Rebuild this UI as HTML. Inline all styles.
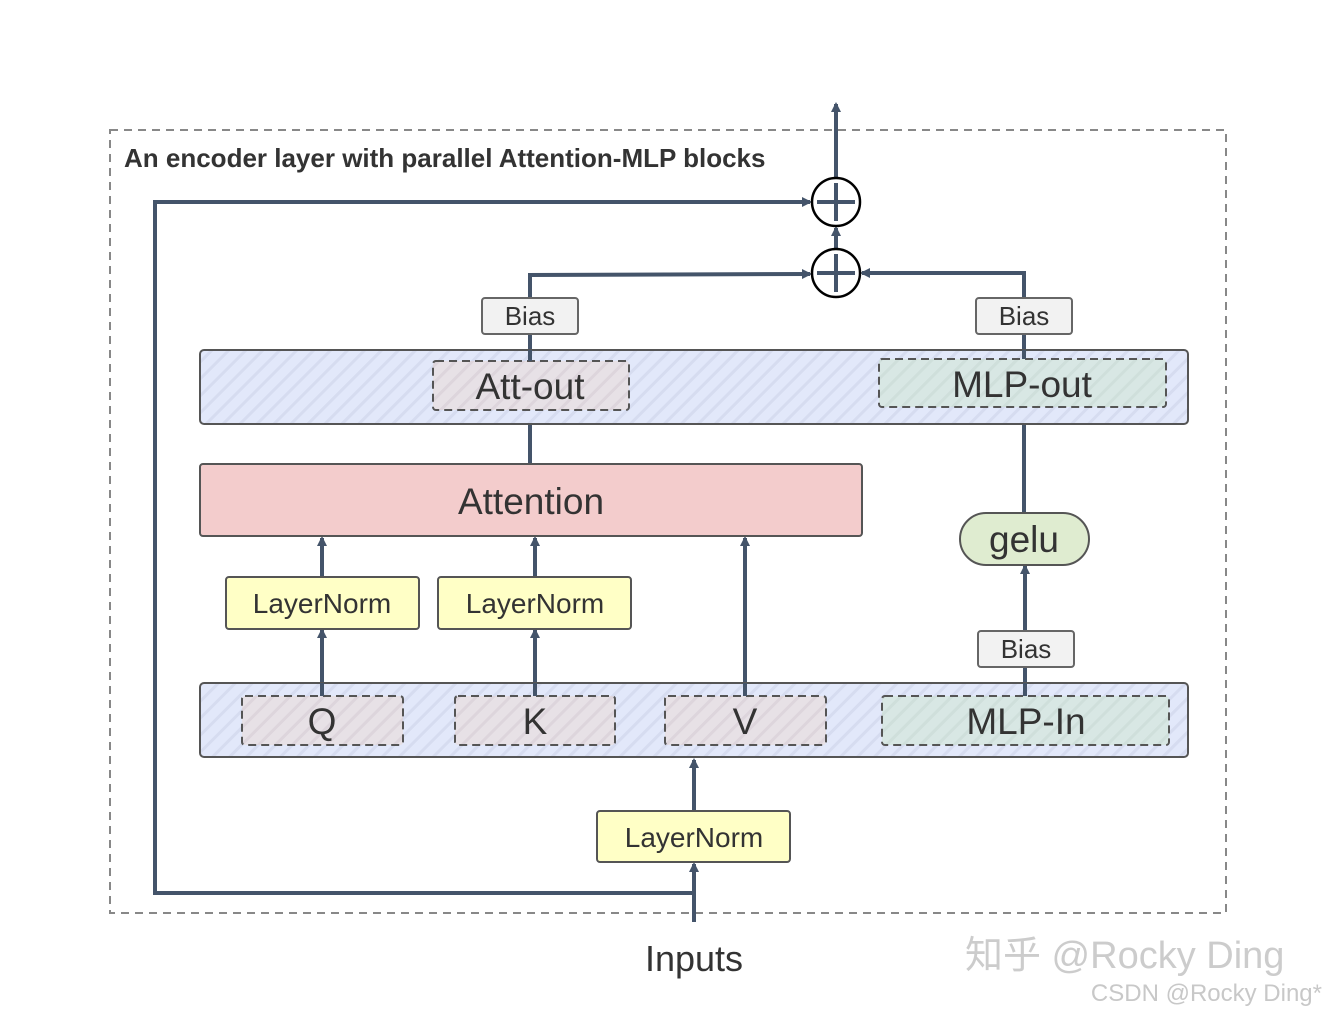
<!DOCTYPE html>
<html><head><meta charset="utf-8"><style>
body{margin:0;background:#fff}
svg{display:block}
text{font-family:"Liberation Sans","Noto Sans CJK SC",sans-serif;fill:#333}
</style></head><body>
<svg width="1328" height="1014" viewBox="0 0 1328 1014" xmlns="http://www.w3.org/2000/svg">
<defs>
<pattern id="h" patternUnits="userSpaceOnUse" width="12" height="12" patternTransform="rotate(45)">
<rect width="12" height="12" fill="#e2e8fa"/><rect width="3" height="12" fill="#d6dcf0"/>
</pattern>
<pattern id="hp" patternUnits="userSpaceOnUse" width="12" height="12" patternTransform="rotate(45)">
<rect width="12" height="12" fill="#e7e1e6"/><rect width="3" height="12" fill="#ddd5dc"/>
</pattern>
<pattern id="hg" patternUnits="userSpaceOnUse" width="12" height="12" patternTransform="rotate(45)">
<rect width="12" height="12" fill="#d8e7e4"/><rect width="3" height="12" fill="#cfdfdb"/>
</pattern>
<marker id="a" markerWidth="10" markerHeight="10" refX="8" refY="5" orient="auto" markerUnits="userSpaceOnUse">
<path d="M0,0 L10,5 L0,10 Z" fill="#44546a"/></marker>
</defs>
<rect x="110" y="130" width="1116" height="783" fill="none" stroke="#888" stroke-width="2" stroke-dasharray="8,6"/>
<text x="124" y="167" font-size="26" font-weight="bold" style="fill:#333">An encoder layer with parallel Attention-MLP blocks</text>

<g stroke="#44546a" stroke-width="4" fill="none">
<line x1="836" y1="178" x2="836" y2="104" marker-end="url(#a)"/>
<polyline points="694,922 694,893 155,893 155,202 810,202" marker-end="url(#a)"/>
<line x1="836" y1="249" x2="836" y2="228" marker-end="url(#a)"/>
<polyline points="530,350 530,275 810,274" marker-end="url(#a)"/>
<polyline points="1024,350 1024,273 862,273" marker-end="url(#a)"/>
<line x1="530" y1="464" x2="530" y2="412" marker-end="url(#a)"/>
<line x1="1024" y1="513" x2="1024" y2="409" marker-end="url(#a)"/>
<line x1="1025" y1="631" x2="1025" y2="566" marker-end="url(#a)"/>
<line x1="1025" y1="696" x2="1025" y2="667"/>
<line x1="322" y1="577" x2="322" y2="538" marker-end="url(#a)"/>
<line x1="535" y1="577" x2="535" y2="538" marker-end="url(#a)"/>
<line x1="745" y1="696" x2="745" y2="538" marker-end="url(#a)"/>
<line x1="322" y1="696" x2="322" y2="630" marker-end="url(#a)"/>
<line x1="535" y1="696" x2="535" y2="630" marker-end="url(#a)"/>
<line x1="694" y1="811" x2="694" y2="760" marker-end="url(#a)"/>
<line x1="694" y1="893" x2="694" y2="864" marker-end="url(#a)"/>
</g>

<g stroke="#000" stroke-width="2.5" fill="#fff">
<circle cx="836" cy="202" r="24"/><circle cx="836" cy="273" r="24"/>
</g>
<g stroke="#44546a" stroke-width="4">
<line x1="817" y1="202" x2="855" y2="202"/><line x1="836" y1="183" x2="836" y2="221"/>
<line x1="817" y1="273" x2="855" y2="273"/><line x1="836" y1="254" x2="836" y2="292"/>
</g>

<g stroke="#666" stroke-width="2" fill="#f2f2f2">
<rect x="482" y="298" width="96" height="36" rx="3"/>
<rect x="976" y="298" width="96" height="36" rx="3"/>
<rect x="978" y="631" width="96" height="36" rx="3"/>
</g>
<g font-size="26" text-anchor="middle">
<text x="530" y="325">Bias</text><text x="1024" y="325">Bias</text><text x="1026" y="658">Bias</text>
</g>

<rect x="200" y="350" width="988" height="74" rx="4" fill="url(#h)" stroke="#555" stroke-width="2"/>
<rect x="433" y="361" width="196" height="49" rx="3" fill="url(#hp)" stroke="#555" stroke-width="2" stroke-dasharray="8,5"/>
<rect x="879" y="359" width="287" height="48" rx="3" fill="url(#hg)" stroke="#555" stroke-width="2" stroke-dasharray="8,5"/>
<line x1="530" y1="350" x2="530" y2="361" stroke="#44546a" stroke-width="4"/>
<line x1="1024" y1="350" x2="1024" y2="359" stroke="#44546a" stroke-width="4"/>
<text x="530" y="399" font-size="37" text-anchor="middle">Att-out</text>
<text x="1022" y="397" font-size="37" text-anchor="middle">MLP-out</text>

<rect x="200" y="464" width="662" height="72" rx="3" fill="#f3cccc" stroke="#555" stroke-width="2"/>
<text x="531" y="514" font-size="37" text-anchor="middle">Attention</text>

<rect x="960" y="513" width="129" height="52" rx="26" fill="#dfecd0" stroke="#555" stroke-width="2"/>
<text x="1024" y="552" font-size="37" text-anchor="middle">gelu</text>

<g fill="#ffffc6" stroke="#555" stroke-width="2">
<rect x="226" y="577" width="193" height="52" rx="3"/>
<rect x="438" y="577" width="193" height="52" rx="3"/>
<rect x="597" y="811" width="193" height="51" rx="3"/>
</g>
<g font-size="28" text-anchor="middle">
<text x="322" y="613">LayerNorm</text><text x="535" y="613">LayerNorm</text><text x="694" y="847">LayerNorm</text>
</g>

<rect x="200" y="683" width="988" height="74" rx="4" fill="url(#h)" stroke="#555" stroke-width="2"/>
<g stroke="#555" stroke-width="2" stroke-dasharray="8,5">
<rect x="242" y="696" width="161" height="49" rx="3" fill="url(#hp)"/>
<rect x="455" y="696" width="160" height="49" rx="3" fill="url(#hp)"/>
<rect x="665" y="696" width="161" height="49" rx="3" fill="url(#hp)"/>
<rect x="882" y="696" width="287" height="49" rx="3" fill="url(#hg)"/>
</g>
<g stroke="#44546a" stroke-width="4">
<line x1="322" y1="683" x2="322" y2="696"/><line x1="535" y1="683" x2="535" y2="696"/>
<line x1="745" y1="683" x2="745" y2="696"/><line x1="1025" y1="683" x2="1025" y2="696"/>
</g>
<g font-size="37" text-anchor="middle">
<text x="322" y="734">Q</text><text x="535" y="734">K</text><text x="745" y="734">V</text><text x="1026" y="734">MLP-In</text>
</g>

<text x="694" y="971" font-size="36" text-anchor="middle">Inputs</text>
<text x="965" y="968" font-size="38" style="fill:#ccc">知乎 @Rocky Ding</text>
<text x="1322" y="1001" font-size="24" text-anchor="end" style="fill:#c8c8c8">CSDN @Rocky Ding*</text>
</svg>
</body></html>
